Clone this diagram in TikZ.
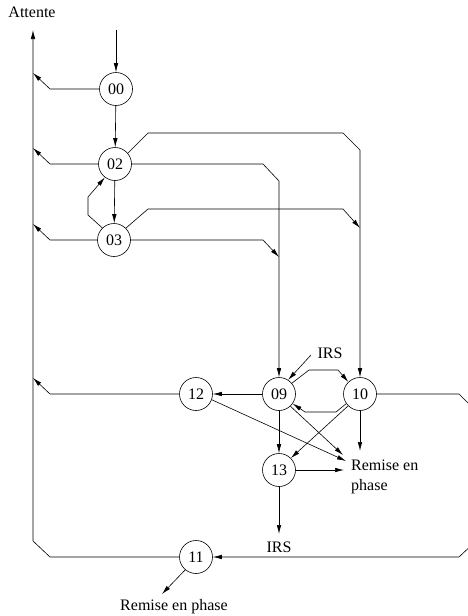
\documentclass[tikz,border=0pt]{standalone}
\usepackage{fontspec}
\setmainfont{Liberation Serif}
\usetikzlibrary{arrows.meta}
\begin{document}
\begin{tikzpicture}[x=1pt,y=-1pt,
  state/.style={draw,circle,minimum size=33pt,inner sep=0pt,line width=0.6pt,font=\fontsize{16}{16}\selectfont},
  lbl/.style={inner sep=0pt,font=\fontsize{16}{20}\selectfont},
  conn/.style={line width=0.6pt},
  arr/.style={line width=0.6pt,-{Latex[length=9pt,width=4.5pt]}}]
\useasboundingbox (0,0) rectangle (468,616);
% states
\node[state] (n00) at (116,89) {00};
\node[state] (n02) at (115,164) {02};
\node[state] (n03) at (114,240) {03};
\node[state] (n12) at (196,394) {12};
\node[state] (n09) at (279,394) {09};
\node[state] (n10) at (360,394) {10};
\node[state] (n13) at (279,470) {13};
\node[state] (n11) at (196,557) {11};
% texts
\node[lbl,anchor=base] (att) at (32,17) {Attente};
\node[lbl,anchor=base] (irs1) at (330,358) {IRS};
\node[lbl,anchor=base] (irs2) at (279,552) {IRS};
\node[lbl,anchor=north west,align=left] (rem) at (351,460) {Remise en\\phase};
\node[lbl,anchor=base] (rem2) at (174,610) {Remise en phase};
% coordinates
\coordinate (in) at (116,30);
\coordinate (top) at (33,30);
\coordinate (L00) at (33,73);
\coordinate (L02) at (33,148);
\coordinate (L03) at (33,224);
\coordinate (L12) at (33,378);
\coordinate (V09a) at (279,257);
\coordinate (V10a) at (360,228);
\coordinate (R09) at (343,455);
\coordinate (R12) at (346,461);
\coordinate (R10) at (360,451);
\coordinate (R13) at (344,470);
\coordinate (I13) at (279,534);
\coordinate (RB) at (162,594);
% connectors
\draw[arr] (in) -- (n00);
\draw[arr] (n00.west) -- (50,89) -- (L00);
\draw[arr] (n00) -- (n02);
\draw[arr] (n02.west) -- (50,164) -- (L02);
\draw[arr] (n02) -- (n03);
\draw[arr] (n03.134) -- (88,215) -- (88,197) -- (n02.233);
\draw[arr] (n02.40) -- (148,133) -- (343,133) -- (360,150) -- (n10.north);
\draw[arr] (n02.east) -- (263,164) -- (279,181) -- (n09.north);
\draw[arr] (n03.45) -- (148,209) -- (343,209) -- (V10a);
\draw[arr] (n03.east) -- (263,240) -- (V09a);
\draw[arr] (n03.west) -- (50,240) -- (L03);
\draw[arr] (n09) -- (n12);
\draw[arr] (n12.west) -- (50,394) -- (L12);
\draw[arr] (311,355) -- (n09.57);
\draw[arr] (n09.40) -- (309,370) -- (338,370) -- (n10.134);
\draw[arr] (n10.215) -- (336,412) -- (305,412) -- (n09.325);
\draw[arr] (n09) -- (n13);
\draw[arr] (n09.313) -- (R09);
\draw[arr] (n10) -- (R10);
\draw[arr] (n10.225) -- (n13.45);
\draw[arr] (n12.340) -- (R12);
\draw[arr] (n13.east) -- (R13);
\draw[arr] (n13) -- (I13);
\begin{scope}
\clip (0,0) rectangle (468,616);
\draw[arr] (n10.east) -- (459,394) -- (476,411) -- (476,541) -- (459,557) -- (n11.east);
\end{scope}
\draw[arr] (n11.west) -- (50,557) -- (33,541) -- (top);
\draw[arr] (n11.230) -- (RB);
\end{tikzpicture}
\end{document}
